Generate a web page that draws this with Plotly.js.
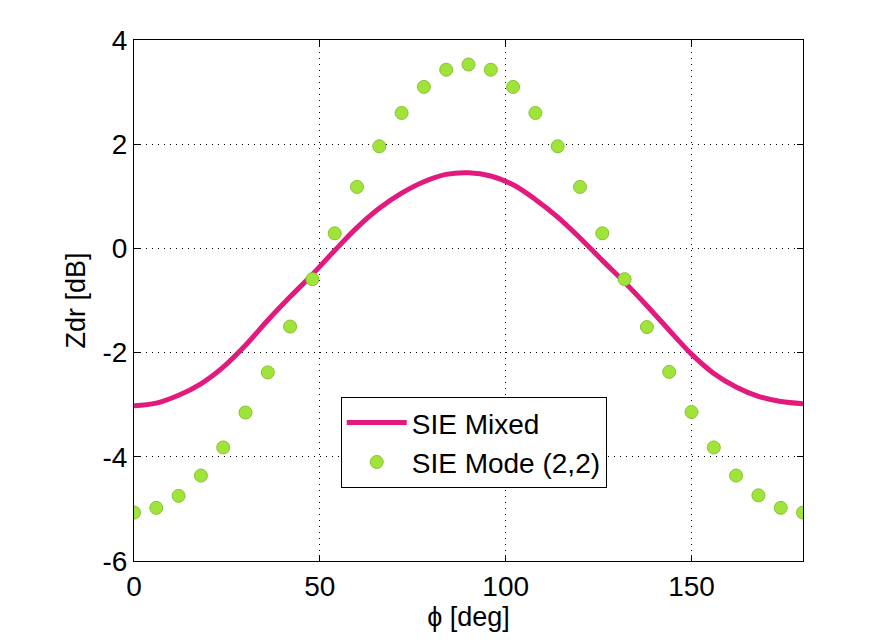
<!DOCTYPE html>
<html>
<head>
<meta charset="utf-8">
<script src="https://cdn.plot.ly/plotly-3.0.1.min.js"></script>
<style>html,body{margin:0;padding:0;background:#fff;}#chart{width:893px;height:642px;}</style>
</head>
<body>
<div id="chart"></div>
<script>
var phi = [0,6,12,18,24,30,36,42,48,54,60,66,72,78,84,90,96,102,108,114,120,126,132,138,144,150,156,162,168,174,180];
var sieMixed = [-3.02,-2.97,-2.82,-2.60,-2.28,-1.86,-1.38,-0.93,-0.50,-0.04,0.40,0.77,1.06,1.28,1.42,1.45,1.39,1.22,0.94,0.60,0.20,-0.23,-0.65,-1.10,-1.57,-2.03,-2.40,-2.66,-2.84,-2.94,-2.98];
var sieMode22 = [-5.07,-4.98,-4.75,-4.36,-3.82,-3.15,-2.38,-1.50,-0.59,0.29,1.18,1.96,2.60,3.10,3.43,3.53,3.43,3.10,2.60,1.96,1.18,0.29,-0.59,-1.51,-2.37,-3.14,-3.82,-4.36,-4.74,-4.98,-5.07];
var seriesNames = ["SIE Mixed", "SIE Mode (2,2)"];
var xTickVals = [0,50,100,150];
var yTickVals = [-6,-4,-2,0,2,4];

var font = "Liberation Sans, Arial, sans-serif";
var traces = [
  {x: phi, y: sieMixed, name: seriesNames[0], type: "scatter", mode: "lines",
   line: {color: "#E31A7E", width: 5, shape: "spline", smoothing: 1}},
  {x: phi, y: sieMode22, name: seriesNames[1], type: "scatter", mode: "markers",
   marker: {color: "#A0E43A", size: 13, line: {color: "#86C233", width: 1}}}
];
var axisCommon = {
  showline: true, linecolor: "#000", linewidth: 1, mirror: "ticks",
  ticks: "inside", ticklen: 6, tickcolor: "#000", tickwidth: 1,
  showgrid: true, gridcolor: "#000", gridwidth: 1, griddash: "1px,5px",
  zeroline: false, tickfont: {family: font, size: 28, color: "#000"}
};
var layout = {
  width: 893, height: 642,
  paper_bgcolor: "#fff", plot_bgcolor: "#fff",
  margin: {l: 134, r: 90, t: 40, b: 81},
  showlegend: true,
  font: {family: font, color: "#000"},
  xaxis: Object.assign({}, axisCommon, {
    range: [0, 180], tickvals: xTickVals, ticktext: xTickVals.map(String),
    title: {text: "ϕ [deg]", font: {family: font, size: 27, color: "#000"}, standoff: 6}
  }),
  yaxis: Object.assign({}, axisCommon, {
    range: [-6, 4], tickvals: yTickVals, ticktext: yTickVals.map(String),
    title: {text: "Zdr [dB]", font: {family: font, size: 27, color: "#000"}, standoff: 9}
  }),
  legend: {
    x: 0.309, y: 0.315, xanchor: "left", yanchor: "top",
    bgcolor: "#fff", bordercolor: "#000", borderwidth: 1,
    font: {family: font, size: 28, color: "#000"},
    tracegroupgap: 0, itemwidth: 60
  }
};
Plotly.newPlot("chart", traces, layout, {displayModeBar: false, staticPlot: true});
</script>
</body>
</html>
